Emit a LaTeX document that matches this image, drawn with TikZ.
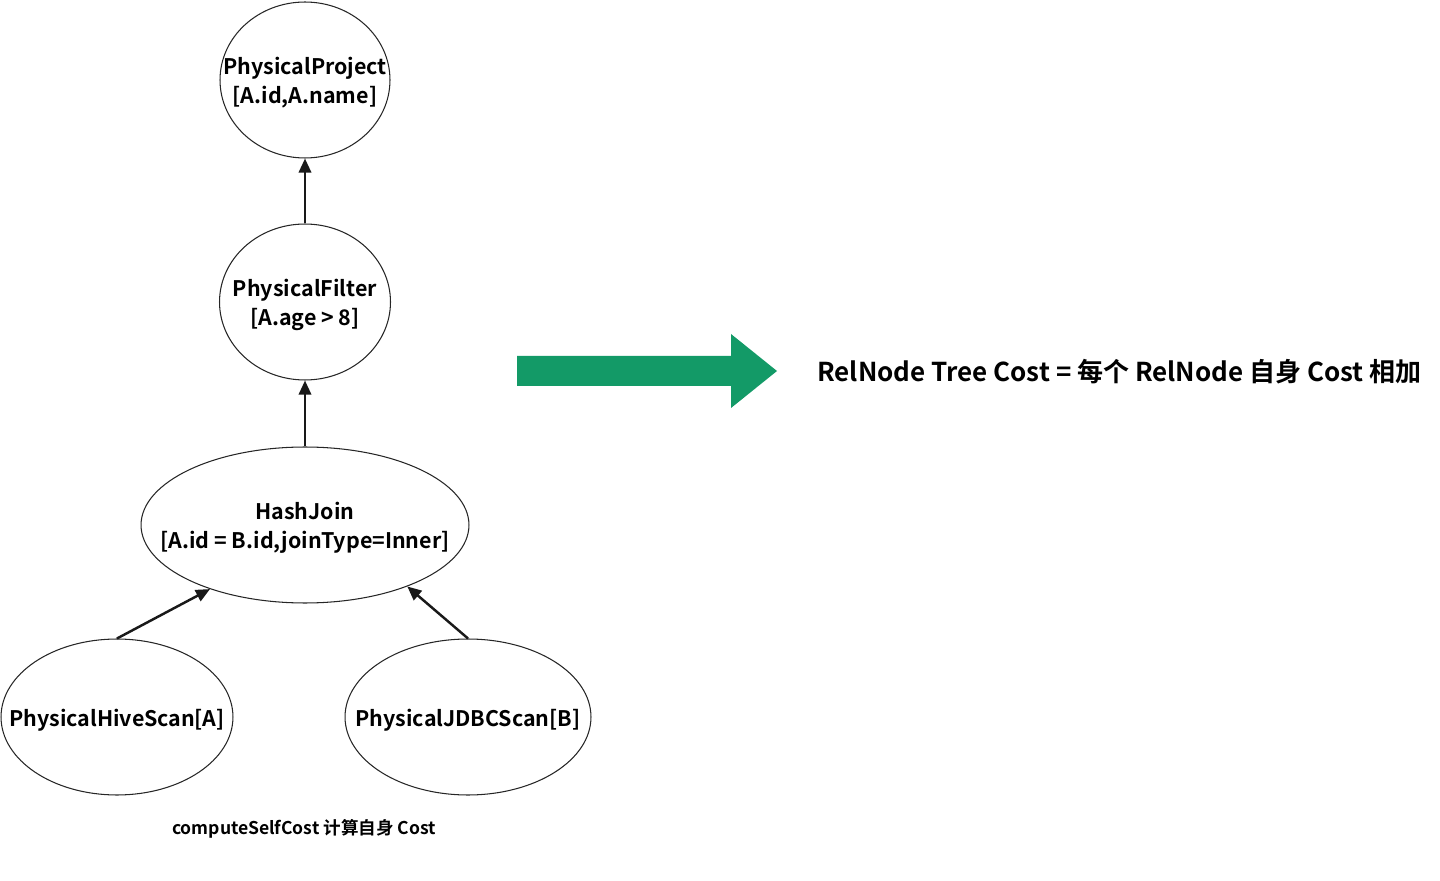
\documentclass[tikz,border=0pt]{standalone}
\usepackage{fontspec}
\setmainfont{Noto Sans CJK SC}[BoldFont={Noto Sans CJK SC Bold}]
\usetikzlibrary{shapes.geometric,arrows.meta}
\definecolor{flowgreen}{HTML}{139A67}
\tikzset{
  relnode/.style={draw=black!85, line width=0.6pt, ellipse, inner sep=0pt, minimum height=3.12cm},
  reltext/.style={inner sep=0pt, align=center, yshift=-1.6pt, font=\bfseries\fontsize{12.2}{16.5}\selectfont},
  flowarrow/.style={line width=1.4pt, draw=black!90, -{Triangle[length=8pt,width=7pt]}}
}
\begin{document}
\begin{tikzpicture}[x=0.02cm,y=-0.02cm]
\useasboundingbox (0,0) rectangle (1440,881);
\node[relnode, minimum width=3.4cm, label={[reltext]center:PhysicalProject\\{}{[A.id,A.name]}}] (proj) at (305,80) {};
\node[relnode, minimum width=3.42cm, label={[reltext]center:PhysicalFilter\\{}{[A.age > 8]}}] (filt) at (305,302) {};
\node[relnode, minimum width=6.56cm, label={[reltext]center:HashJoin\\{}{[A.id = B.id,joinType=Inner]}}] (hj) at (305,525) {};
\node[relnode, minimum width=4.64cm, label={[reltext]center:PhysicalHiveScan[A]}] (hive) at (117,717) {};
\node[relnode, minimum width=4.92cm, label={[reltext]center:PhysicalJDBCScan[B]}] (jdbc) at (468,717) {};
\draw[flowarrow] (filt.north) -- (proj.south);
\draw[flowarrow] (hj.north) -- (filt.south);
\draw[flowarrow] (hive.north) -- (hj.214);
\draw[flowarrow] (jdbc.north) -- (hj.329);
\node[font=\bfseries\fontsize{10}{12}\selectfont] (note) at (304,829) {computeSelfCost 计算自身 Cost};
\fill[flowgreen] (517,356) -- (731,356) -- (731,334) -- (777,371) -- (731,408) -- (731,386) -- (517,386) -- cycle;
\node[anchor=west, inner sep=0pt, font=\bfseries\fontsize{14.8}{17}\selectfont] (sum) at (817,372) {RelNode Tree Cost = 每个 RelNode 自身 Cost 相加};
\end{tikzpicture}
\end{document}
